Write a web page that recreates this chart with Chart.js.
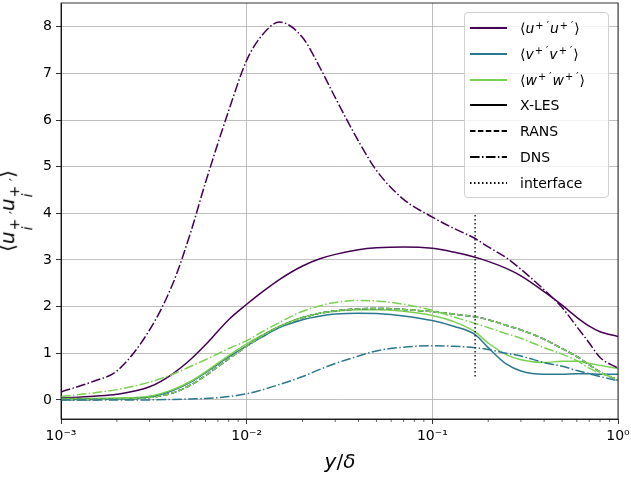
<!DOCTYPE html>
<html>
<head>
<meta charset="utf-8">
<script src="https://cdn.jsdelivr.net/npm/chart.js@4.4.1/dist/chart.umd.min.js"></script>
<style>
  body { margin: 0; background: #fff; font-family: "DejaVu Sans", sans-serif; }
  #wrap { position: relative; width: 631px; height: 478px; }
  #ylabel { position: absolute; left: 15px; top: 211px; transform: translate(-50%, -50%) rotate(-90deg); font-size: 20px; white-space: nowrap; }
  #xlabel { position: absolute; left: 340px; top: 461px; transform: translate(-50%, -50%); font-size: 20px; white-space: nowrap; }
  .ss { display: inline-flex; flex-direction: column; font-size: 70%; line-height: 0.95; vertical-align: -0.35em; font-style: normal; margin-left: 1px; }
  .ss i { font-style: italic; }
  #legend { position: absolute; left: 464px; top: 12px; width: 145px; height: 186px; border: 1px solid #d0d0d0; border-radius: 4px; background: rgba(255,255,255,0.8); font-size: 14px; box-sizing: border-box; }
  .row { position: absolute; left: 5px; height: 20px; display: flex; align-items: center; white-space: nowrap; }
  .row svg { width: 37px; height: 6px; margin-right: 13px; }
  .row sup { font-size: 70%; vertical-align: 0.45em; line-height: 0; margin: 0 1px; }
</style>
</head>
<body>
<div id="wrap">
  <canvas id="chart" width="631" height="478"></canvas>
  <div id="ylabel">⟨<i>u</i><span class="ss"><span>+ ′</span><i>i</i></span><i>u</i><span class="ss"><span>+ ′</span><i>i</i></span>⟩</div>
  <div id="xlabel"><i>y</i>/<i>δ</i></div>
  <div id="legend"></div>
</div>
<script>
// y/delta sample points (shared by all profiles)
const xs = [0.001, 0.0015, 0.002, 0.003, 0.004, 0.005, 0.006, 0.008, 0.01, 0.012, 0.015, 0.02, 0.025, 0.03,
  0.04, 0.05, 0.07, 0.1, 0.13, 0.17, 0.2, 0.25, 0.3, 0.4, 0.5, 0.6, 0.7, 0.8, 1.0];

// X-LES
const xlesU = [0.04, 0.08, 0.12, 0.28, 0.56, 0.87, 1.18, 1.72, 2.05, 2.3, 2.58, 2.87, 3.03, 3.12,
  3.22, 3.26, 3.28, 3.25, 3.17, 3.06, 2.97, 2.82, 2.66, 2.32, 2.03, 1.77, 1.58, 1.46, 1.36];
const xlesV = [0.01, 0.01, 0.02, 0.06, 0.2, 0.38, 0.58, 0.92, 1.16, 1.34, 1.55, 1.72, 1.8, 1.84,
  1.86, 1.85, 1.8, 1.7, 1.58, 1.4, 1.12, 0.77, 0.62, 0.55, 0.55, 0.56, 0.56, 0.55, 0.55];
const xlesW = [0.03, 0.03, 0.04, 0.08, 0.22, 0.4, 0.6, 0.95, 1.2, 1.38, 1.58, 1.77, 1.86, 1.9,
  1.93, 1.93, 1.9, 1.81, 1.68, 1.46, 1.22, 0.97, 0.86, 0.8, 0.83, 0.83, 0.78, 0.74, 0.67];

// RANS (isotropic, same profile for all three components)
const ransK = [0.01, 0.01, 0.02, 0.05, 0.15, 0.32, 0.52, 0.88, 1.15, 1.36, 1.57, 1.76, 1.86, 1.91,
  1.95, 1.96, 1.94, 1.89, 1.84, 1.78, 1.72, 1.6, 1.5, 1.3, 1.1, 0.93, 0.75, 0.6, 0.42];

// DNS
const dnsU = [0.17, 0.4, 0.62, 1.5, 2.49, 3.6, 4.66, 6.2, 7.28, 7.8, 8.1, 7.77, 7.1, 6.48,
  5.55, 4.92, 4.3, 3.92, 3.68, 3.46, 3.28, 3.05, 2.8, 2.36, 1.98, 1.57, 1.22, 0.91, 0.68];
const dnsV = [0.0, 0.0, 0.0, 0.0, 0.01, 0.02, 0.03, 0.07, 0.13, 0.21, 0.33, 0.5, 0.66, 0.78,
  0.94, 1.05, 1.13, 1.16, 1.15, 1.12, 1.08, 1.0, 0.94, 0.8, 0.72, 0.63, 0.56, 0.5, 0.41];
const dnsW = [0.07, 0.15, 0.22, 0.38, 0.55, 0.72, 0.86, 1.1, 1.27, 1.45, 1.66, 1.9, 2.02, 2.09,
  2.13, 2.12, 2.05, 1.92, 1.78, 1.64, 1.55, 1.42, 1.32, 1.12, 0.98, 0.84, 0.68, 0.57, 0.46];

// interface location
const interfaceX = [0.17, 0.17];
const interfaceY = [0.5, 4.0];

const xMajor = [0.001, 0.01, 0.1, 1];
const xMajorLabels = ["10⁻³", "10⁻²", "10⁻¹", "10⁰"];
const xMinor = [0.002, 0.003, 0.004, 0.005, 0.006, 0.007, 0.008, 0.009,
  0.02, 0.03, 0.04, 0.05, 0.06, 0.07, 0.08, 0.09,
  0.2, 0.3, 0.4, 0.5, 0.6, 0.7, 0.8, 0.9];
const yTicks = [0, 1, 2, 3, 4, 5, 6, 7, 8];

const colU = "#440154";
const colV = "#2a788e";
const colW = "#7ad151";
const DASHED = [5.5, 2.4];
const DASHDOT = [9.6, 2.4, 1.5, 2.4];
const DOTTED = [1.5, 2.5];

function pts(ys, xv) {
  return ys.map((y, i) => ({ x: (xv || xs)[i], y }));
}

function line(label, ys, color, dash) {
  return {
    label,
    data: pts(ys),
    borderColor: color,
    borderWidth: 1.5,
    borderDash: dash,
    pointRadius: 0,
    cubicInterpolationMode: "monotone",
    fill: false
  };
}

const datasets = [
  line("u X-LES", xlesU, colU, []),
  line("v X-LES", xlesV, colV, []),
  line("w X-LES", xlesW, colW, []),
  line("u RANS", ransK, colU, DASHED),
  line("v RANS", ransK, colV, DASHED),
  line("w RANS", ransK, colW, DASHED),
  line("u DNS", dnsU, colU, DASHDOT),
  line("v DNS", dnsV, colV, DASHDOT),
  line("w DNS", dnsW, colW, DASHDOT),
  {
    label: "interface",
    data: pts(interfaceY, interfaceX),
    borderColor: "#222",
    borderWidth: 1.5,
    borderDash: DOTTED,
    pointRadius: 0,
    fill: false
  }
];
// later datasets on top, like matplotlib
datasets.forEach((d, i) => { d.order = -i; });

// frame + minor ticks, matplotlib style
const framePlugin = {
  id: "frame",
  afterDraw(chart) {
    const { ctx, chartArea: a } = chart;
    const sx = chart.scales.x;
    ctx.save();
    ctx.strokeStyle = "#000";
    ctx.lineWidth = 0.6;
    ctx.beginPath();
    xMinor.forEach(v => {
      const px = sx.getPixelForValue(v);
      ctx.moveTo(px, a.bottom);
      ctx.lineTo(px, a.bottom + 3);
    });
    ctx.stroke();
    ctx.lineWidth = 0.8;
    ctx.strokeRect(a.left, a.top, a.right - a.left, a.bottom - a.top);
    ctx.restore();
  }
};

const tickFont = { family: "DejaVu Sans", size: 14 };

new Chart(document.getElementById("chart"), {
  type: "line",
  data: { datasets },
  options: {
    responsive: false,
    animation: false,
    devicePixelRatio: 1,
    layout: { padding: { left: 0, right: 13, top: 3, bottom: 0 } },
    plugins: { legend: { display: false }, tooltip: { enabled: false } },
    scales: {
      x: {
        type: "logarithmic",
        min: 0.001,
        max: 1,
        afterBuildTicks: s => { s.ticks = xMajor.map(v => ({ value: v })); },
        afterFit: s => { s.height = 59; s.paddingLeft = 0; s.paddingRight = 0; },
        ticks: {
          autoSkip: false,
          maxRotation: 0,
          color: "#000",
          font: tickFont,
          padding: 4,
          callback: v => xMajorLabels[xMajor.indexOf(v)] ?? ""
        },
        grid: { color: "#b0b0b0", lineWidth: 0.8, tickLength: 5, tickColor: "#000", tickWidth: 0.8 },
        border: { color: "#000", width: 0.8 }
      },
      y: {
        type: "linear",
        min: -0.41,
        max: 8.51,
        afterBuildTicks: s => { s.ticks = yTicks.map(v => ({ value: v })); },
        afterFit: s => { s.width = 61; s.paddingTop = 0; s.paddingBottom = 0; },
        ticks: { color: "#000", font: tickFont, padding: 4 },
        grid: { color: "#b0b0b0", lineWidth: 0.8, tickLength: 5, tickColor: "#000", tickWidth: 0.8 },
        border: { color: "#000", width: 0.8 }
      }
    }
  },
  plugins: [framePlugin]
});

// legend
const mathLabel = c => `⟨<i>${c}</i><sup>+ ′</sup><i>${c}</i><sup>+ ′</sup>⟩`;
const legendItems = [
  { html: mathLabel("u"), color: colU, dash: [] },
  { html: mathLabel("v"), color: colV, dash: [] },
  { html: mathLabel("w"), color: colW, dash: [] },
  { html: "X-LES", color: "#000", dash: [] },
  { html: "RANS", color: "#000", dash: DASHED },
  { html: "DNS", color: "#000", dash: DASHDOT },
  { html: "interface", color: "#000", dash: DOTTED }
];
const legend = document.getElementById("legend");
legendItems.forEach((it, i) => {
  const row = document.createElement("div");
  row.className = "row";
  row.style.top = (5 + i * 25.8) + "px";
  row.innerHTML = `<svg viewBox="0 0 37 6"><line x1="0" y1="3" x2="37" y2="3" stroke="${it.color}" stroke-width="2" stroke-dasharray="${it.dash.join(" ")}"/></svg><span>${it.html}</span>`;
  legend.appendChild(row);
});
</script>
</body>
</html>
